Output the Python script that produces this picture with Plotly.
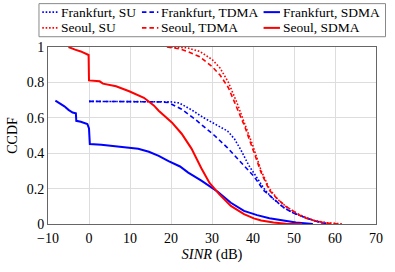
import plotly.graph_objects as go

# Frankfurt
fra_su_x = [0, 10, 16, 20, 22, 25, 28, 30.6, 33.8, 35.5, 37, 39, 41, 43, 45, 47.5, 50, 52.5, 55, 57, 59]
fra_su_y = [0.693, 0.693, 0.693, 0.69, 0.684, 0.645, 0.6, 0.568, 0.525, 0.48, 0.42, 0.33, 0.26, 0.19, 0.14, 0.093, 0.06, 0.038, 0.018, 0.006, 0]
fra_tdma_x = [0, 10, 17, 19.4, 22.6, 25.8, 28, 30.6, 33.8, 36, 38.6, 40.2, 42.6, 45, 47.5, 50, 52.5, 55, 57, 59]
fra_tdma_y = [0.693, 0.693, 0.69, 0.686, 0.648, 0.593, 0.55, 0.5, 0.43, 0.375, 0.315, 0.27, 0.19, 0.14, 0.093, 0.06, 0.038, 0.018, 0.006, 0]
fra_sdma_x = [-8.2, -7, -6, -5, -4, -3.2, -3.1, -2, -1, -0.4, 0, 0.2, 3, 6, 9.4, 12, 14.6, 17, 19.4, 22.2, 24.2, 27.4, 31.4, 34.6, 37.8, 41, 44, 46.5, 50.5, 54.6]
fra_sdma_y = [0.697, 0.68, 0.665, 0.645, 0.63, 0.625, 0.583, 0.578, 0.57, 0.565, 0.54, 0.452, 0.448, 0.44, 0.433, 0.425, 0.408, 0.385, 0.355, 0.325, 0.29, 0.245, 0.182, 0.12, 0.074, 0.05, 0.032, 0.022, 0.009, 0]

# Seoul
seo_su_x = [20, 24, 27, 30, 32, 34, 36, 38, 40, 42, 44, 46, 48, 50, 52, 55, 58, 62]
seo_su_y = [1.0, 0.995, 0.975, 0.93, 0.88, 0.8, 0.69, 0.57, 0.44, 0.3, 0.2, 0.14, 0.1, 0.07, 0.045, 0.02, 0.007, 0]
seo_tdma_x = [19, 22, 24, 27, 30, 32, 34, 36, 38, 40, 42, 44, 46, 48, 50, 52, 55, 58, 61]
seo_tdma_y = [1.0, 0.99, 0.975, 0.945, 0.89, 0.84, 0.77, 0.66, 0.55, 0.42, 0.29, 0.19, 0.14, 0.1, 0.07, 0.04, 0.018, 0.005, 0]
seo_sdma_x = [-5, -4, -3.4, -2, -0.6, -0.1, 0, 2.6, 3.4, 6.6, 9.8, 13.4, 15.8, 17, 20.2, 22.6, 25, 27.4, 29.4, 31.8, 34.6, 37.8, 40.2, 42, 45, 48, 52]
seo_sdma_y = [1.0, 0.99, 0.985, 0.975, 0.963, 0.955, 0.811, 0.806, 0.793, 0.778, 0.75, 0.713, 0.67, 0.64, 0.574, 0.51, 0.426, 0.315, 0.232, 0.167, 0.102, 0.056, 0.032, 0.02, 0.008, 0.002, 0]

x_ticks = [-10, 0, 10, 20, 30, 40, 50, 60, 70]
x_tick_labels = ["\u221210", "0", "10", "20", "30", "40", "50", "60", "70"]
y_ticks = [0, 0.2, 0.4, 0.6, 0.8, 1]
y_tick_labels = ["0", "0.2", "0.4", "0.6", "0.8", "1"]

BLUE = "#0000ff"
RED = "#ff0000"
FONT = "Liberation Serif"
AXIS = "#666666"
DOT = "1.6px,1.8px"
DASH = "4.5px,3px"

series = [
    ("Frankfurt, SU", fra_su_x, fra_su_y, BLUE, DOT, 1.6),
    ("Frankfurt, TDMA", fra_tdma_x, fra_tdma_y, BLUE, DASH, 1.6),
    ("Frankfurt, SDMA", fra_sdma_x, fra_sdma_y, BLUE, "solid", 2),
    ("Seoul, SU", seo_su_x, seo_su_y, RED, DOT, 1.6),
    ("Seoul, TDMA", seo_tdma_x, seo_tdma_y, RED, DASH, 1.6),
    ("Seoul, SDMA", seo_sdma_x, seo_sdma_y, RED, "solid", 2),
]

fig = go.Figure()
for name, xs, ys, col, dash, w in series:
    fig.add_trace(go.Scatter(x=xs, y=ys, mode="lines", name=name, showlegend=False,
                             line=dict(color=col, dash=dash, width=w)))

# Legend box drawn in paper coordinates, 2 rows x 3 columns
col_x0 = [-0.0175, 0.2864, 0.6572]
sample_len = 0.05
row_y = [1.197, 1.108]
shapes = [dict(type="rect", xref="paper", yref="paper", x0=-0.0275, x1=1.029,
               y0=1.058, y1=1.245, line=dict(color="#888888", width=1),
               fillcolor="white", layer="above")]
annotations = []
for i, (name, xs, ys, col, dash, w) in enumerate(series):
    r, c = divmod(i, 3)
    shapes.append(dict(type="line", xref="paper", yref="paper",
                       x0=col_x0[c], x1=col_x0[c] + sample_len, y0=row_y[r], y1=row_y[r],
                       line=dict(color=col, dash=dash, width=w)))
    annotations.append(dict(text=name, xref="paper", yref="paper",
                            x=col_x0[c] + sample_len + 0.005, y=row_y[r],
                            xanchor="left", yanchor="middle", showarrow=False,
                            borderpad=0,
                            font=dict(family=FONT, size=13.5, color="black")))

fig.update_layout(
    width=395, height=272,
    margin=dict(l=48, r=14, t=47, b=45),
    paper_bgcolor="white", plot_bgcolor="white",
    font=dict(family=FONT, size=13, color="black"),
    showlegend=False,
    shapes=shapes, annotations=annotations,
)
fig.update_xaxes(range=[-10, 70], tickvals=x_ticks, ticktext=x_tick_labels,
                 showgrid=True, gridcolor="#dddddd", gridwidth=1,
                 showline=True, linecolor=AXIS, linewidth=1, mirror=True,
                 ticks="", zeroline=False, ticklabelstandoff=1,
                 tickfont=dict(family=FONT, size=14),
                 title=dict(text="<i>SINR</i> (dB)", font=dict(family=FONT, size=14.5), standoff=4))
fig.update_yaxes(range=[0, 1], tickvals=y_ticks, ticktext=y_tick_labels,
                 showgrid=True, gridcolor="#dddddd", gridwidth=1,
                 showline=True, linecolor=AXIS, linewidth=1, mirror=True,
                 ticks="", zeroline=False,
                 tickfont=dict(family=FONT, size=14),
                 title=dict(text="CCDF", font=dict(family=FONT, size=14), standoff=5))

fig.write_html("out.html", config={"displayModeBar": False},
               post_script="document.body.style.margin='0';")
